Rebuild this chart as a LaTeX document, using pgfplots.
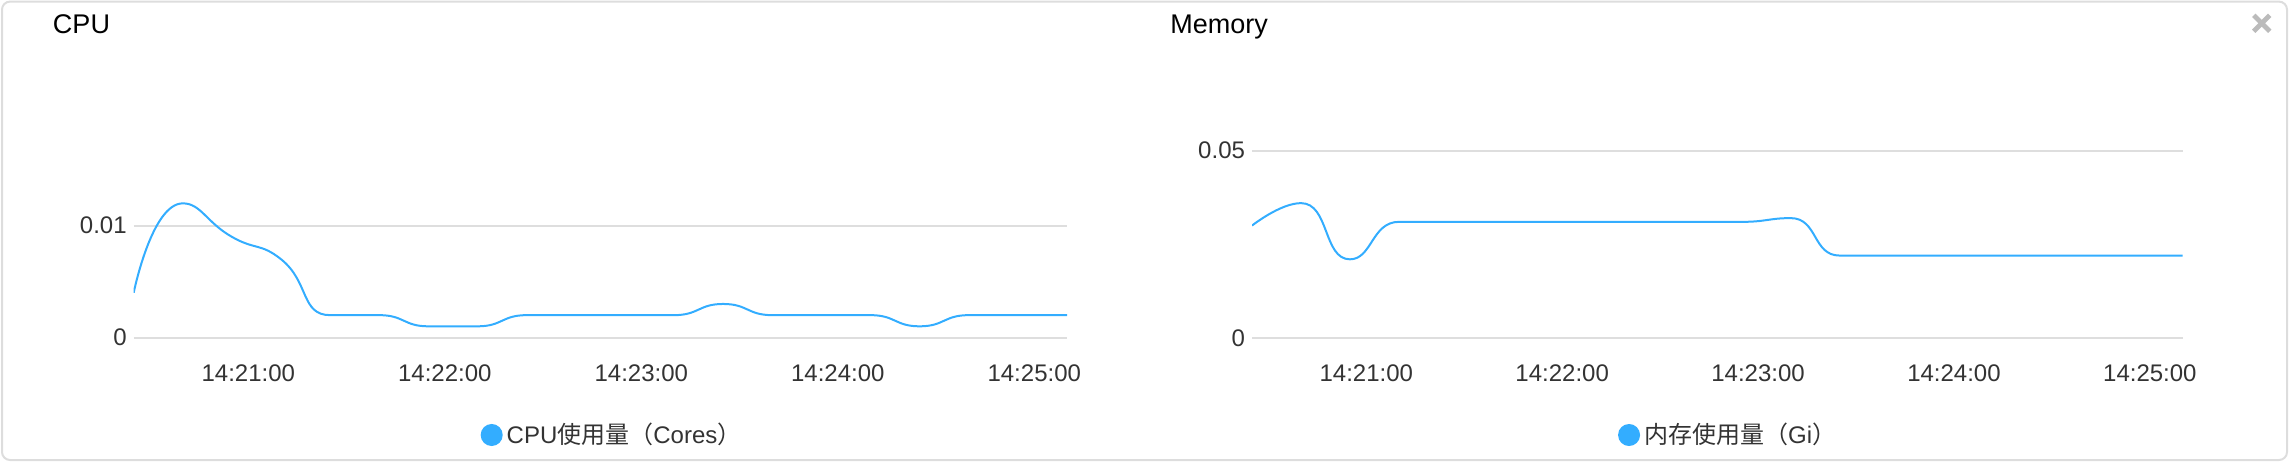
\documentclass[border=0pt]{standalone}
\usepackage{pgfplots}
\pgfplotsset{compat=1.18}
\usepackage{fontspec}
\setmainfont{Liberation Sans}
\newfontfamily\cjk{Noto Sans CJK SC}
\definecolor{lineblue}{HTML}{33ADFF}
\definecolor{gridgray}{HTML}{DEDEDE}
\definecolor{labelgray}{HTML}{333333}
\definecolor{cardgray}{HTML}{DDDDDD}
\definecolor{closegray}{HTML}{BBBBBB}

% ECharts-like clamped smooth curve as a pgf plot handler
\makeatletter
\newcount\ech@n
\newcount\ech@i
\def\pgfplothandlerecharts{%
  \def\pgf@plotstreamstart{%
    \global\ech@n=0
    \global\let\pgf@plotstreampoint\ech@point
    \global\let\pgf@plotstreampointoutlier\@gobble
    \global\let\pgf@plotstreampointundefined\@gobble
    \global\let\pgf@plotstreamnewdataset\relax
    \global\let\pgf@plotstreamspecial\@gobble
    \global\let\pgf@plotstreamend\ech@end
  }%
}
\def\ech@point#1{%
  \pgf@process{#1}%
  \expandafter\xdef\csname ech@x@\the\ech@n\endcsname{\pgf@sys@tonumber\pgf@x}%
  \expandafter\xdef\csname ech@y@\the\ech@n\endcsname{\pgf@sys@tonumber\pgf@y}%
  \global\advance\ech@n by 1
}
\def\ech@end{%
  \edef\ech@x{\csname ech@x@0\endcsname}\edef\ech@y{\csname ech@y@0\endcsname}%
  \pgfpathmoveto{\pgfqpoint{\ech@x pt}{\ech@y pt}}%
  \let\ech@cpxa\ech@x \let\ech@cpya\ech@y
  \let\ech@prevx\ech@x \let\ech@prevy\ech@y
  \ech@i=1
  \ech@step
}
\def\ech@step{%
  \ifnum\ech@i<\ech@n
    \edef\ech@x{\csname ech@x@\the\ech@i\endcsname}%
    \edef\ech@y{\csname ech@y@\the\ech@i\endcsname}%
    \advance\ech@i by 1
    \ifnum\ech@i<\ech@n
      \edef\ech@nx{\csname ech@x@\the\ech@i\endcsname}%
      \edef\ech@ny{\csname ech@y@\the\ech@i\endcsname}%
      \ech@compute
    \else
      \let\ech@cpxb\ech@x \let\ech@cpyb\ech@y
      \let\ech@ncpx\ech@x \let\ech@ncpy\ech@y
    \fi
    \pgfpathcurveto{\pgfqpoint{\ech@cpxa pt}{\ech@cpya pt}}{\pgfqpoint{\ech@cpxb pt}{\ech@cpyb pt}}{\pgfqpoint{\ech@x pt}{\ech@y pt}}%
    \let\ech@cpxa\ech@ncpx \let\ech@cpya\ech@ncpy
    \let\ech@prevx\ech@x \let\ech@prevy\ech@y
    \expandafter\ech@step
  \fi
}
\def\ech@compute{%
  \pgfmathsetmacro\ech@vx{(\ech@nx)-(\ech@prevx)}%
  \pgfmathsetmacro\ech@vy{(\ech@ny)-(\ech@prevy)}%
  \pgfmathsetmacro\ech@lp{sqrt(((\ech@x)-(\ech@prevx))^2+((\ech@y)-(\ech@prevy))^2)}%
  \pgfmathsetmacro\ech@ln{sqrt(((\ech@nx)-(\ech@x))^2+((\ech@ny)-(\ech@y))^2)}%
  \pgfmathsetmacro\ech@r{\ech@ln/(\ech@ln+\ech@lp)}%
  \pgfmathsetmacro\ech@ncpx{\ech@x+(\ech@vx)*0.5*\ech@r}%
  \pgfmathsetmacro\ech@ncpy{\ech@y+(\ech@vy)*0.5*\ech@r}%
  \pgfmathsetmacro\ech@ncpx{max(min(\ech@ncpx,max(\ech@nx,\ech@x)),min(\ech@nx,\ech@x))}%
  \pgfmathsetmacro\ech@ncpy{max(min(\ech@ncpy,max(\ech@ny,\ech@y)),min(\ech@ny,\ech@y))}%
  \pgfmathsetmacro\ech@cpxb{\ech@x-((\ech@ncpx)-(\ech@x))*\ech@lp/\ech@ln}%
  \pgfmathsetmacro\ech@cpyb{\ech@y-((\ech@ncpy)-(\ech@y))*\ech@lp/\ech@ln}%
  \pgfmathsetmacro\ech@cpxb{max(min(\ech@cpxb,max(\ech@prevx,\ech@x)),min(\ech@prevx,\ech@x))}%
  \pgfmathsetmacro\ech@cpyb{max(min(\ech@cpyb,max(\ech@prevy,\ech@y)),min(\ech@prevy,\ech@y))}%
  \pgfmathsetmacro\ech@ncpx{\ech@x+((\ech@x)-(\ech@cpxb))*\ech@ln/\ech@lp}%
  \pgfmathsetmacro\ech@ncpy{\ech@y+((\ech@y)-(\ech@cpyb))*\ech@ln/\ech@lp}%
}
\tikzset{echarts smooth/.code={\def\tikz@plot@handler{\pgfplothandlerecharts}}}
\makeatother

\pgfplotstableread{
t y
25 0.004
40 0.012
55 0.009
70 0.007
85 0.002
100 0.002
115 0.001
130 0.001
145 0.002
160 0.002
175 0.002
190 0.002
205 0.003
220 0.002
235 0.002
250 0.002
265 0.001
280 0.002
295 0.002
310 0.002
}\cpudata

\pgfplotstableread{
t y
25 0.030
40 0.036
55 0.021
70 0.031
85 0.031
100 0.031
115 0.031
130 0.031
145 0.031
160 0.031
175 0.031
190 0.032
205 0.022
220 0.022
235 0.022
250 0.022
265 0.022
280 0.022
295 0.022
310 0.022
}\memdata

\pgfplotsset{
  panel/.style={
    scale only axis,
    axis x line*=bottom, axis y line*=left,
    axis line style={draw=none},
    tick style={draw=none},
    xmin=25, xmax=310, ymin=0,
    scaled y ticks=false,
    xtick={60,120,180,240,300},
    xticklabels={14:21:00,14:22:00,14:23:00,14:24:00,14:25:00},
    ymajorgrids,
    grid style={gridgray, line width=1pt},
    ticklabel style={font=\fontsize{12}{14}\selectfont, text=labelgray},
    xticklabel style={yshift=-10pt},
    legend style={draw=none, fill=none, font=\fontsize{12}{14}\selectfont, text=labelgray,
      inner sep=0pt, anchor=center},
    legend cell align=left,
    legend image code/.code={\fill[lineblue] (5pt,0pt) circle (5pt);},
  }
}

\begin{document}
\begin{tikzpicture}
\useasboundingbox (0,0) rectangle (1146pt,231pt);
\draw[cardgray, line width=1pt, rounded corners=4pt] (1pt,1pt) rectangle (1143.5pt,230.2pt);
\draw[closegray, line width=2.4pt] (1126.85pt,215.35pt) -- (1134.85pt,223.35pt);
\draw[closegray, line width=2.4pt] (1126.85pt,223.35pt) -- (1134.85pt,215.35pt);
\node[anchor=base west, inner sep=0pt, font=\fontsize{13.5}{16}\selectfont, text=black] at (26.3pt,214.35pt) {CPU};
\node[anchor=base west, inner sep=0pt, font=\fontsize{13.5}{16}\selectfont, text=black] at (585pt,214.35pt) {Memory};

\begin{axis}[panel,
  at={(66.85pt,62.25pt)}, anchor=south west,
  width=466.65pt, height=111.8pt,
  ymax=0.02, ytick={0,0.01}, yticklabels={0,0.01},
  legend style={at={(axis description cs:0.5136,-0.436)}},
]
\addplot[lineblue, line width=1pt, echarts smooth] table[x=t, y=y] {\cpudata};
\addlegendentry{CPU{\cjk 使用量（}Cores{\cjk ）}}
\end{axis}

\begin{axis}[panel,
  at={(626pt,62pt)}, anchor=south west,
  width=465.25pt, height=112.4pt,
  ymax=0.06, ytick={0,0.05}, yticklabels={0,0.05},
  legend style={at={(axis description cs:0.5127,-0.4315)}},
]
\addplot[lineblue, line width=1pt, echarts smooth] table[x=t, y=y] {\memdata};
\addlegendentry{{\cjk 内存使用量（}Gi{\cjk ）}}
\end{axis}
\end{tikzpicture}
\end{document}
